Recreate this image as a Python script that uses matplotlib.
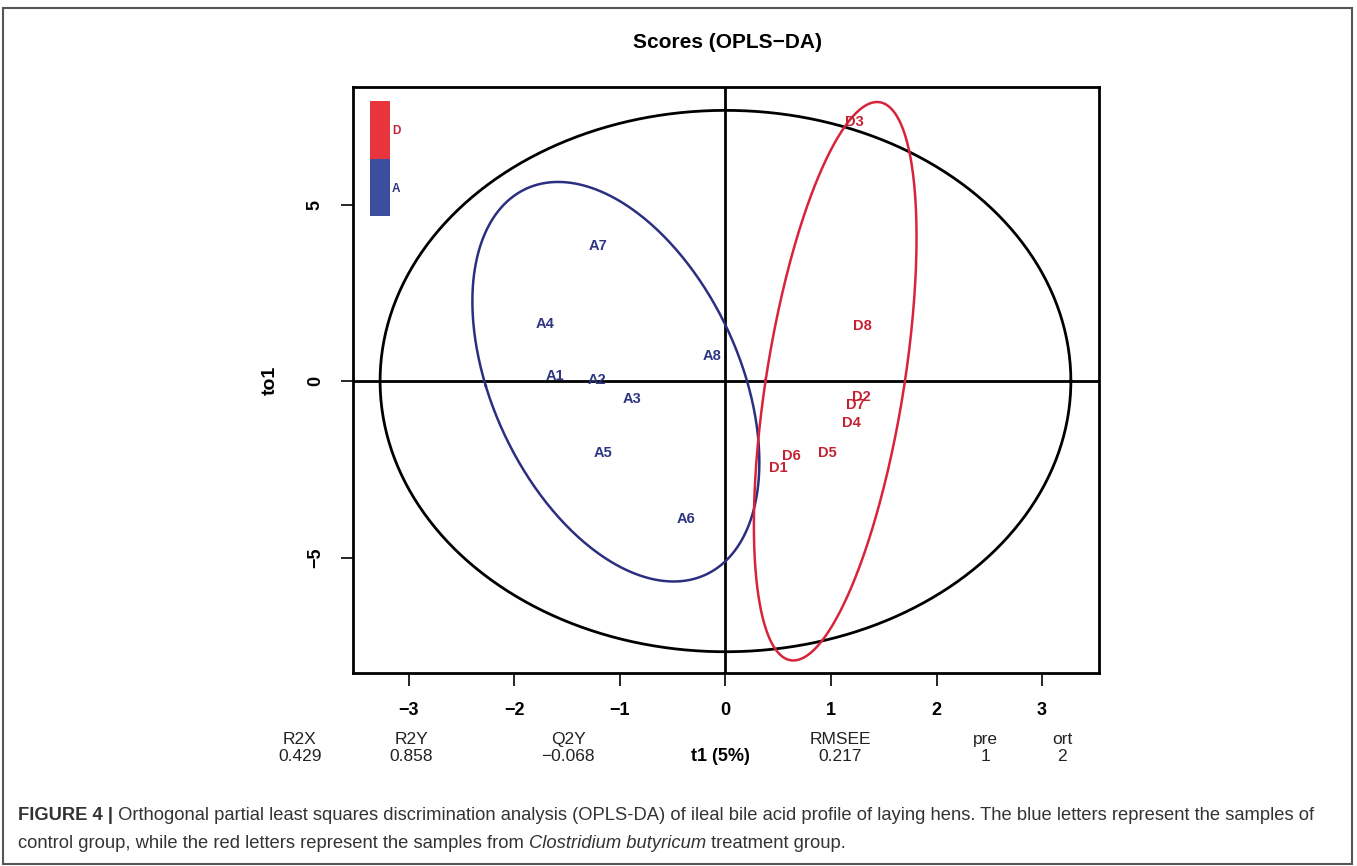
import numpy as np
import matplotlib
matplotlib.use("Agg")
import matplotlib.pyplot as plt
from matplotlib import font_manager
from matplotlib.patches import Rectangle

# ---- data ----
labels_a = ["A1", "A2", "A3", "A4", "A5", "A6", "A7", "A8"]
t1_a = [-1.62, -1.22, -0.89, -1.71, -1.16, -0.37, -1.21, -0.13]
to1_a = [0.14, 0.03, -0.51, 1.61, -2.04, -3.91, 3.82, 0.71]

labels_d = ["D1", "D2", "D3", "D4", "D5", "D6", "D7", "D8"]
t1_d = [0.50, 1.29, 1.22, 1.19, 0.97, 0.62, 1.23, 1.30]
to1_d = [-2.46, -0.45, 7.34, -1.19, -2.04, -2.12, -0.68, 1.56]

stat_names = ["R2X", "R2Y", "Q2Y", "RMSEE", "pre", "ort"]
stat_values = ["0.429", "0.858", "\u22120.068", "0.217", "1", "2"]

blue_txt = "#2E3582"
red_txt = "#C42233"
blue_line = "#2C2F80"
red_line = "#D8243A"

base = "Liberation Sans"
names = {f.name for f in font_manager.fontManager.ttflist}
narrow = "Liberation Sans Narrow" if "Liberation Sans Narrow" in names else base
cap_size = 15.5 if narrow != base else 13.2
plt.rcParams["font.family"] = base


def conf_ellipse(x, y, r):
    x = np.asarray(x); y = np.asarray(y)
    cov = np.cov(x, y)
    vals, vecs = np.linalg.eigh(cov)
    th = np.linspace(0, 2 * np.pi, 400)
    circ = np.vstack([np.cos(th), np.sin(th)]) * np.sqrt(vals)[:, None] * r
    pts = vecs @ circ
    return x.mean() + pts[0], y.mean() + pts[1]


fig = plt.figure(figsize=(13.57, 8.66), dpi=100)
W, H = 1357, 866
ax = fig.add_axes([353 / W, 1 - 673 / H, 746 / W, 586 / H])

ax.axhline(0, color="black", lw=2, zorder=1)
ax.axvline(0, color="black", lw=2, zorder=1)

# Hotelling T2 ellipse over all samples (F quantile, df1 = 2 has a closed form)
all_t = np.array(t1_a + t1_d)
all_o = np.array(to1_a + to1_d)
n = len(all_t)
d2 = n - 2
fq = d2 / 2 * (0.05 ** (-2 / d2) - 1)
hot = np.sqrt((n - 1) * 2 * (n ** 2 - 1) / (n ** 2 * (n - 2)) * fq)
th = np.linspace(0, 2 * np.pi, 400)
ax.plot(hot * all_t.std(ddof=1) * np.cos(th), hot * all_o.std(ddof=1) * np.sin(th),
        color="black", lw=2, zorder=2)

# group ellipses, 95% chi-square radius
r95 = np.sqrt(-2 * np.log(0.05))
ex, ey = conf_ellipse(t1_a, to1_a, r95)
ax.plot(ex, ey, color=blue_line, lw=1.8, zorder=3)
ex, ey = conf_ellipse(t1_d, to1_d, r95)
ax.plot(ex, ey, color=red_line, lw=1.8, zorder=3)

for lab, x, y in zip(labels_a, t1_a, to1_a):
    ax.text(x, y, lab, color=blue_txt, fontsize=10.5, fontweight="bold",
            ha="center", va="center", zorder=4)
for lab, x, y in zip(labels_d, t1_d, to1_d):
    ax.text(x, y, lab, color=red_txt, fontsize=10.5, fontweight="bold",
            ha="center", va="center", zorder=4)

ax.set_xlim(-3.53, 3.54)
ax.set_ylim(-8.27, 8.33)
ax.set_xticks([-3, -2, -1, 0, 1, 2, 3])
ax.set_yticks([-5, 0, 5])
ax.tick_params(length=9, width=1.2, labelsize=13, pad=12)
for lab in ax.get_xticklabels():
    lab.set_fontweight("bold")
for lab in ax.get_yticklabels():
    lab.set_fontweight("bold")
    lab.set_rotation(90)
    lab.set_va("center")
for s in ax.spines.values():
    s.set_linewidth(2)
ax.set_ylabel("to1", fontsize=14, fontweight="bold", labelpad=20)

# colour key in the corner
ax.add_patch(Rectangle((0.023, 0.877), 0.027, 0.099, transform=ax.transAxes,
                       facecolor="#E8343C", edgecolor="none", zorder=5))
ax.add_patch(Rectangle((0.023, 0.780), 0.027, 0.097, transform=ax.transAxes,
                       facecolor="#3D4E9E", edgecolor="none", zorder=5))
ax.text(0.052, 0.925, "D", transform=ax.transAxes, fontsize=8.5, fontweight="bold",
        color=red_txt, va="center", zorder=6)
ax.text(0.052, 0.826, "A", transform=ax.transAxes, fontsize=8.5, fontweight="bold",
        color=blue_txt, va="center", zorder=6)

fig.text(727 / W, 1 - 42 / H, "Scores (OPLS\u2212DA)", fontsize=15, fontweight="bold",
         ha="center", va="center")

# model statistics under the plot
stat_x = [300, 411, 568, 840, 985, 1062]
for name, val, px in zip(stat_names, stat_values, stat_x):
    fig.text(px / W, 1 - 744 / H, name, fontsize=12.5, ha="center", va="baseline", color="#222222")
    fig.text(px / W, 1 - 761 / H, val, fontsize=12.5, ha="center", va="baseline", color="#222222")
fig.text(720 / W, 1 - 761 / H, "t1 (5%)", fontsize=13, fontweight="bold", ha="center", va="baseline")

# figure frame
fig.patches.append(Rectangle((3 / W, 1 - 864 / H), 1349 / W, 856 / H, transform=fig.transFigure,
                             fill=False, edgecolor="#555555", lw=1.5))

# caption with mixed styles
caption = [
    [("FIGURE 4 |", "bold", "normal"),
     (" Orthogonal partial least squares discrimination analysis (OPLS-DA) of ileal bile acid profile of laying hens. The blue letters represent the samples of", "normal", "normal")],
    [("control group, while the red letters represent the samples from ", "normal", "normal"),
     ("Clostridium butyricum", "normal", "italic"),
     (" treatment group.", "normal", "normal")],
]
fig.canvas.draw()
rend = fig.canvas.get_renderer()
for row, py in zip(caption, [815, 843]):
    x = 18
    for txt, wt, st in row:
        t = fig.text(x / W, 1 - py / H, txt, fontsize=cap_size, fontweight=wt, fontstyle=st,
                     family=narrow, va="center", ha="left", color="#333333")
        x += t.get_window_extent(renderer=rend).width

fig.savefig("out.png", dpi=100)
